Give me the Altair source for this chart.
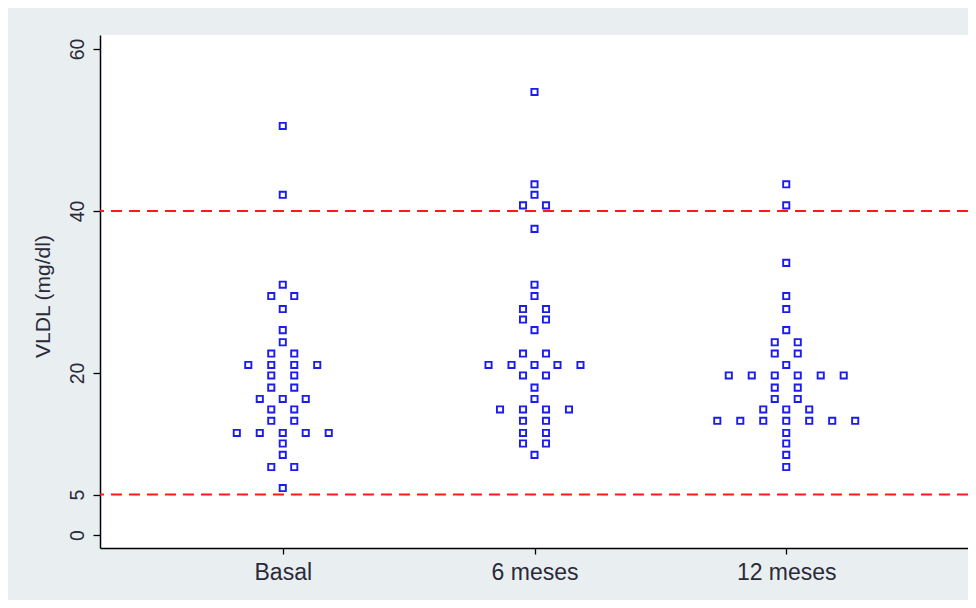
import json
import altair as alt
import pandas as pd

# ---- data ----
categorias = ["Basal", "6 meses", "12 meses"]

basal = [50.5, 42.0, 30.9, 29.5, 29.5, 27.9, 25.3, 23.8, 22.4, 22.4,
         21.0, 21.0, 21.0, 21.0, 19.7, 19.7, 18.2, 18.2, 16.8, 16.8, 16.8,
         15.5, 15.5, 14.1, 14.1, 12.6, 12.6, 12.6, 12.6, 12.6,
         11.3, 9.9, 8.4, 8.4, 5.8]

meses6 = [54.7, 43.3, 42.0, 40.7, 40.7, 37.8, 30.9, 29.5, 27.9, 27.9,
          26.6, 26.6, 25.3, 22.4, 22.4, 21.0, 21.0, 21.0, 21.0, 21.0,
          19.7, 19.7, 18.2, 16.8, 15.5, 15.5, 15.5, 15.5, 14.1, 14.1,
          12.6, 12.6, 11.3, 11.3, 9.9]

meses12 = [43.3, 40.7, 33.6, 29.5, 27.9, 25.3, 23.8, 23.8, 22.4, 22.4,
           21.0, 19.7, 19.7, 19.7, 19.7, 19.7, 19.7, 18.2, 18.2, 16.8,
           16.8, 15.5, 15.5, 15.5, 14.1, 14.1, 14.1, 14.1, 14.1, 14.1,
           14.1, 12.6, 11.3, 9.9, 8.4]

umbrales = [40, 5]
y_ticks = [0, 5, 20, 40, 60]
x_ticks = [1, 2, 3]

rows = []
for cat, vals in zip(categorias, [basal, meses6, meses12]):
    for v in vals:
        rows.append({"grupo": cat, "vldl": v})
df = pd.DataFrame(rows)
df_rules = pd.DataFrame({"vldl": umbrales})

FONT = "Liberation Sans"
TXT = "#2a2a38"
STEP = 0.0913  # horizontal spacing of stacked dots, in x-scale units

label_expr = " : ".join(
    f"datum.value == {i + 1} ? '{c}'" for i, c in enumerate(categorias[:-1])
) + f" : '{categorias[-1]}'"

x_enc = alt.X(
    "pos:Q",
    scale=alt.Scale(domain=[0.274, 3.722], nice=False, zero=False),
    axis=alt.Axis(
        values=x_ticks, labelExpr=label_expr, title=None, grid=False,
        tickSize=6, labelPadding=7, labelFontSize=23, labelBaseline="top",
    ),
)
y_scale = alt.Scale(domain=[-1.6, 61.73], nice=False, zero=False)
y_axis = alt.Axis(
    values=y_ticks, title="VLDL (mg/dl)", grid=False,
    tickSize=7, labelAngle=270, labelAlign="center", labelBaseline="alphabetic",
    labelPadding=10, labelFontSize=19.5,
    titleAngle=270, titleX=-57, titleY=261, titleAlign="center",
    titleBaseline="middle", titleFontSize=21, titleFontWeight="normal",
)

points = (
    alt.Chart(df)
    .transform_window(rank="row_number()", groupby=["grupo", "vldl"])
    .transform_joinaggregate(n="count()", groupby=["grupo", "vldl"])
    .transform_calculate(
        pos=f"indexof({json.dumps(categorias)}, datum.grupo) + 1 + "
            f"(datum.rank - (datum.n + 1) / 2) * {STEP}"
    )
    .mark_point(shape="square", filled=False, size=38, strokeWidth=1.9,
                color="#1c1cf0", opacity=1)
    .encode(x=x_enc, y=alt.Y("vldl:Q", scale=y_scale, axis=y_axis))
)

rules = (
    alt.Chart(df_rules)
    .mark_rule(color="#ff1a1a", strokeDash=[11, 7], strokeWidth=2)
    .encode(y=alt.Y("vldl:Q", scale=y_scale, axis=y_axis))
)

chart = (
    alt.layer(rules, points)
    .properties(
        width=868, height=513,
        autosize=alt.AutoSizeParams(type="none"),
        padding={"left": 92, "top": 27, "right": 0, "bottom": 52},
        background="#e9eff1",
    )
    .configure_view(fill="white", strokeWidth=0)
    .configure_axis(
        domainColor="black", domainWidth=1.5, tickColor="black", tickWidth=1.3,
        labelFont=FONT, titleFont=FONT, labelColor=TXT, titleColor=TXT,
    )
)

chart.save("out.html", embed_options={"renderer": "svg", "actions": False})
